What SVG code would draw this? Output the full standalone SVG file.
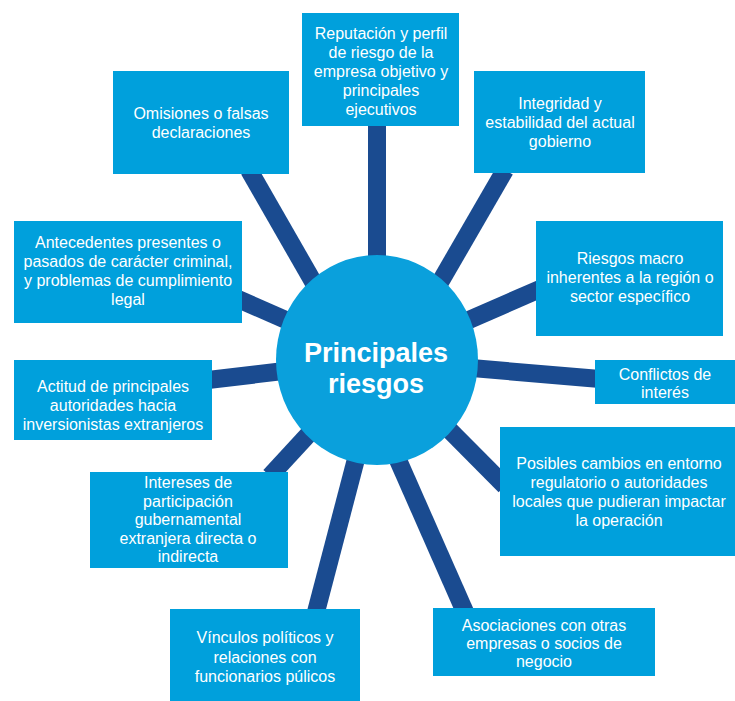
<svg xmlns="http://www.w3.org/2000/svg" width="735" height="701" viewBox="0 0 735 701">
<style>
.box{fill:#00a0dc}
.t{font-family:"Liberation Sans",Arial,sans-serif;font-size:16px;fill:#ffffff;text-anchor:middle}
.c{font-family:"Liberation Sans",Arial,sans-serif;font-size:27px;font-weight:bold;fill:#ffffff;text-anchor:middle}
.sp{stroke:#1a4b90;stroke-width:18;fill:none}
</style>
<rect width="735" height="701" fill="#ffffff"/>
<g id="connectors">
<line class="sp" x1="377" y1="360" x2="377" y2="120"/>
<line class="sp" x1="358" y1="360" x2="249" y2="170"/>
<line class="sp" x1="395" y1="360" x2="505" y2="170"/>
<line class="sp" x1="377" y1="360" x2="238" y2="299"/>
<line class="sp" x1="377" y1="360" x2="540" y2="289"/>
<line class="sp" x1="377" y1="360" x2="208" y2="380"/>
<line class="sp" x1="377" y1="360" x2="600" y2="379"/>
<line class="sp" x1="377" y1="357" x2="505" y2="486"/>
<line class="sp" x1="377" y1="360" x2="270" y2="476"/>
<line class="sp" x1="372" y1="398" x2="316" y2="612"/>
<line class="sp" x1="361" y1="376" x2="465" y2="612"/>
</g>
<g id="center">
<ellipse cx="377" cy="360" rx="101" ry="105" fill="#0aa0dc"/>
<text class="c" x="376" y="362">Principales</text>
<text class="c" x="376" y="393">riesgos</text>
</g>
<g id="n-reputacion">
<rect class="box" x="302" y="13" width="157" height="113"/>
<text class="t" x="381" y="39">Reputación y perfil</text>
<text class="t" x="381" y="58">de riesgo de la</text>
<text class="t" x="381" y="77">empresa objetivo y</text>
<text class="t" x="381" y="96">principales</text>
<text class="t" x="381" y="115">ejecutivos</text>
</g>
<g id="n-omisiones">
<rect class="box" x="113" y="71" width="176" height="103"/>
<text class="t" x="201" y="119">Omisiones o falsas</text>
<text class="t" x="201" y="138">declaraciones</text>
</g>
<g id="n-integridad">
<rect class="box" x="474" y="71" width="171" height="102"/>
<text class="t" x="560" y="109">Integridad y</text>
<text class="t" x="560" y="128">estabilidad del actual</text>
<text class="t" x="560" y="147">gobierno</text>
</g>
<g id="n-antecedentes">
<rect class="box" x="14" y="221" width="228" height="102"/>
<text class="t" x="128" y="248">Antecedentes presentes o</text>
<text class="t" x="128" y="267">pasados de carácter criminal,</text>
<text class="t" x="128" y="286">y problemas de cumplimiento</text>
<text class="t" x="128" y="305">legal</text>
</g>
<g id="n-macro">
<rect class="box" x="536" y="221" width="187" height="115"/>
<text class="t" x="630" y="264">Riesgos macro</text>
<text class="t" x="630" y="283">inherentes a la región o</text>
<text class="t" x="630" y="302">sector específico</text>
</g>
<g id="n-actitud">
<rect class="box" x="14" y="360" width="198" height="80"/>
<text class="t" x="113" y="392">Actitud de principales</text>
<text class="t" x="113" y="411">autoridades hacia</text>
<text class="t" x="113" y="430">inversionistas extranjeros</text>
</g>
<g id="n-conflictos">
<rect class="box" x="595" y="360" width="140" height="44"/>
<text class="t" x="665" y="380">Conflictos de</text>
<text class="t" x="665" y="398">interés</text>
</g>
<g id="n-posibles">
<rect class="box" x="500" y="427" width="235" height="129"/>
<text class="t" x="619" y="469">Posibles cambios en entorno</text>
<text class="t" x="619" y="488">regulatorio o autoridades</text>
<text class="t" x="619" y="507">locales que pudieran impactar</text>
<text class="t" x="619" y="526">la operación</text>
</g>
<g id="n-intereses">
<rect class="box" x="90" y="472" width="198" height="96"/>
<text class="t" x="188" y="488">Intereses de</text>
<text class="t" x="188" y="507">participación</text>
<text class="t" x="188" y="525">gubernamental</text>
<text class="t" x="188" y="544">extranjera directa o</text>
<text class="t" x="188" y="562">indirecta</text>
</g>
<g id="n-vinculos">
<rect class="box" x="170" y="609" width="190" height="92"/>
<text class="t" x="265" y="643">Vínculos políticos y</text>
<text class="t" x="265" y="663">relaciones con</text>
<text class="t" x="265" y="682">funcionarios púlicos</text>
</g>
<g id="n-asociaciones">
<rect class="box" x="433" y="608" width="222" height="68"/>
<text class="t" x="544" y="631">Asociaciones con otras</text>
<text class="t" x="544" y="649">empresas o socios de</text>
<text class="t" x="544" y="667">negocio</text>
</g>
</svg>
